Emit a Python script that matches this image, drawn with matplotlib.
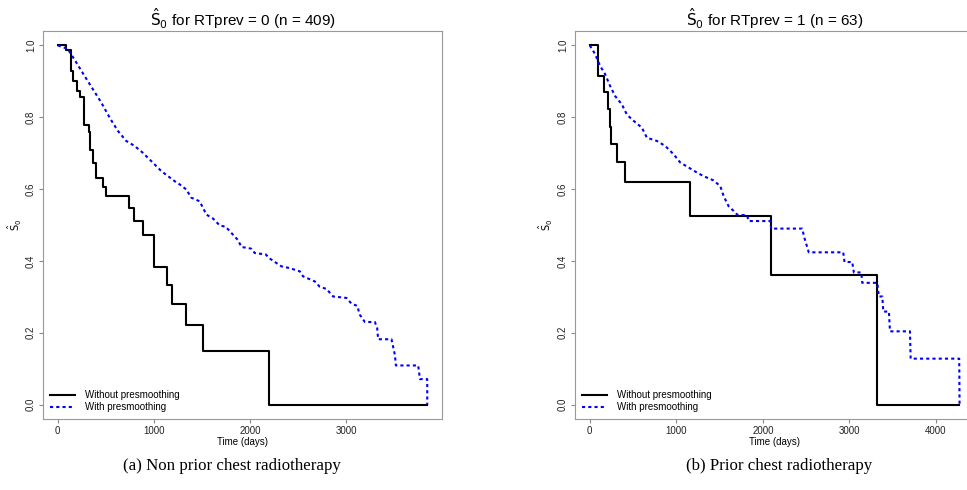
import numpy as np
import matplotlib
matplotlib.use('Agg')
import matplotlib.pyplot as plt

plt.rcParams['font.family'] = ['Liberation Sans', 'DejaVu Sans']

# Left panel: RTprev = 0 (n = 409), Kaplan-Meier style steps
t0_raw = [0, 87, 139, 163, 198, 229, 271, 323, 337, 361, 399, 469, 503, 740, 792, 889,
          1003, 1135, 1184, 1330, 1507, 2194, 3844]
s0_raw = [1.0, 0.988, 0.93, 0.90, 0.872, 0.855, 0.779, 0.76, 0.71, 0.672, 0.632, 0.607, 0.582,
          0.547, 0.512, 0.472, 0.382, 0.332, 0.28, 0.222, 0.15, 0.0, 0.0]
# presmoothed curve, read as a polyline (plateau corners included)
t0_pre = [0, 104, 191, 278, 365, 452, 539, 625, 712, 799, 885, 972, 1077, 1216, 1268, 1337,
          1389, 1476, 1510, 1546, 1615, 1684, 1747, 1823, 1875, 1910, 2015, 2049, 2164, 2198,
          2326, 2413, 2518, 2552, 2674, 2726, 2796, 2865, 3004, 3056, 3115, 3143, 3195, 3299,
          3323, 3333, 3472, 3507, 3518, 3750, 3768, 3844, 3844]
s0_pre = [1.0, 0.99, 0.953, 0.915, 0.878, 0.841, 0.799, 0.762, 0.734, 0.72, 0.701, 0.678,
          0.65, 0.622, 0.613, 0.599, 0.576, 0.566, 0.548, 0.529, 0.518, 0.499, 0.495, 0.473,
          0.458, 0.439, 0.434, 0.422, 0.418, 0.408, 0.385, 0.38, 0.371, 0.357, 0.343, 0.328,
          0.322, 0.301, 0.297, 0.281, 0.275, 0.25, 0.23, 0.23, 0.213, 0.182, 0.182, 0.139,
          0.109, 0.109, 0.071, 0.071, 0.0]

# Right panel: RTprev = 1 (n = 63)
t1_raw = [0, 100, 170, 212, 232, 247, 309, 402, 1154, 2095, 3322, 4270]
s1_raw = [1.0, 0.915, 0.869, 0.824, 0.774, 0.726, 0.674, 0.62, 0.525, 0.361, 0.0, 0.0]
t1_pre = [0, 61, 119, 177, 235, 293, 370, 428, 486, 602, 660, 775, 872, 968, 1045, 1142,
          1238, 1315, 1431, 1508, 1547, 1605, 1663, 1702, 1817, 1836, 2087, 2095, 2454, 2480,
          2530, 2928, 2943, 3032, 3051, 3137, 3148, 3322, 3340, 3380, 3391, 3456, 3468, 3699,
          3707, 4268, 4272]
s1_pre = [1.0, 0.976, 0.943, 0.92, 0.887, 0.859, 0.836, 0.808, 0.794, 0.771, 0.743, 0.734,
          0.72, 0.697, 0.674, 0.66, 0.646, 0.636, 0.624, 0.608, 0.58, 0.552, 0.539, 0.529,
          0.527, 0.511, 0.511, 0.49, 0.49, 0.464, 0.424, 0.424, 0.397, 0.397, 0.368, 0.368,
          0.339, 0.339, 0.301, 0.301, 0.259, 0.259, 0.204, 0.204, 0.128, 0.128, 0.0]

titles = [r'$\hat{\mathrm{S}}_0$ for RTprev = 0 (n = 409)',
          r'$\hat{\mathrm{S}}_0$ for RTprev = 1 (n = 63)']
captions = ['(a) Non prior chest radiotherapy', '(b) Prior chest radiotherapy']
xticks = [[0, 1000, 2000, 3000], [0, 1000, 2000, 3000, 4000]]
yticks = [0.0, 0.2, 0.4, 0.6, 0.8, 1.0]

fig = plt.figure(figsize=(9.67, 4.9), dpi=100)
axes = [fig.add_axes([0.0445, 0.1449, 0.4126, 0.7918]),
        fig.add_axes([0.5946, 0.1449, 0.4130, 0.7918])]

panels = [(t0_raw, s0_raw, t0_pre, s0_pre), (t1_raw, s1_raw, t1_pre, s1_pre)]
ylab_x = [-0.048, -0.05]

for ax, (tr, sr, tp, sp), title, xt, lx in zip(axes, panels, titles, xticks, ylab_x):
    ax.step(tr, sr, where='post', color='black', lw=1.5, label='Without presmoothing')
    ax.plot(tp, sp, color='#0000ff', lw=1.5, linestyle=(0, (1.5, 1.5)),
            label='With presmoothing')
    tmax = max(tr[-1], tp[-1])
    ax.set_xlim(-0.04 * tmax, 1.04 * tmax)
    ax.set_ylim(-0.04, 1.04)
    ax.set_xticks(xt)
    ax.set_yticks(yticks)
    ax.set_yticklabels(['%.1f' % v for v in yticks], rotation=90, va='center')
    ax.tick_params(labelsize=7, length=3, color='#888888', pad=2, labelcolor='#222222')
    for sp_ in ax.spines.values():
        sp_.set_color('#999999')
        sp_.set_linewidth(0.8)
    ax.set_title(title, fontsize=11, pad=3)
    ax.set_xlabel('Time (days)', fontsize=7, labelpad=1)
    ax.set_ylabel(r'$\hat{\mathrm{S}}_0$', fontsize=7)
    ax.yaxis.set_label_coords(lx, 0.5)
    ax.legend(loc='lower left', frameon=False, fontsize=7, handlelength=2.6,
              borderaxespad=0.3, labelspacing=0.2, handletextpad=1.0)

fig.text(0.24, 0.05, captions[0], ha='center', va='center', fontsize=12.2,
         family=['Liberation Serif', 'DejaVu Serif'])
fig.text(0.806, 0.05, captions[1], ha='center', va='center', fontsize=12.2,
         family=['Liberation Serif', 'DejaVu Serif'])

fig.savefig('out.png', dpi=100)
